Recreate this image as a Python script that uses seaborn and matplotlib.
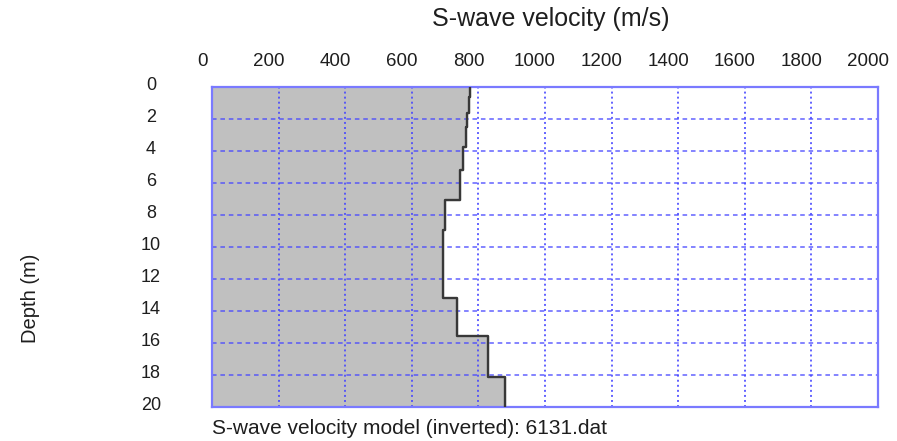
import matplotlib
matplotlib.use("Agg")
import matplotlib.pyplot as plt
import matplotlib.transforms as mtransforms
import pandas as pd
import seaborn as sns

# layer tops (m) and S-wave velocities (m/s)
layer_top = [0.0, 0.6, 1.65, 2.5, 3.75, 5.2, 7.05, 8.95, 13.2, 15.55, 18.1]
vs = [775, 772, 767, 763, 753, 745, 700, 695, 735, 830, 880]
max_depth = 20.0
x_ticks = list(range(0, 2001, 200))
y_ticks = list(range(0, 21, 2))

sns.set_theme(style="white")
plt.rcParams["font.family"] = ["Liberation Sans", "DejaVu Sans"]

bottoms = layer_top[1:] + [max_depth]
rows = []
for top, bot, v in zip(layer_top, bottoms, vs):
    rows.append({"vs": v, "depth": top})
    rows.append({"vs": v, "depth": bot})
df = pd.DataFrame(rows)

fig = plt.figure(figsize=(8.97, 4.41), dpi=100)
ax = fig.add_axes([212 / 897, 1 - 407 / 441, 666 / 897, 320 / 441])

frame_blue = "#7a7aff"
grid_blue = "#4646ff"
text_col = "#1e1e1e"

ax.fill_betweenx(df["depth"], 0, df["vs"], color="#c0c0c0", zorder=1)
sns.lineplot(data=df, x="vs", y="depth", sort=False, estimator=None,
             color="#383838", linewidth=1.7, ax=ax, zorder=3)

ax.set_xlim(0, 2000)
ax.set_ylim(max_depth, 0)
ax.set_xticks(x_ticks)
ax.set_yticks(y_ticks)
ax.xaxis.tick_top()
ax.set_xlabel("")
ax.set_ylabel("")

for x in x_ticks[1:-1]:
    ax.axvline(x, color=grid_blue, linestyle=(0, (1, 1.6)), linewidth=1.4, alpha=0.85, zorder=2)
for y in y_ticks[1:-1]:
    ax.axhline(y, color=grid_blue, linestyle=(0, (3, 2.5)), linewidth=1.1, alpha=0.85, zorder=2)

for sp in ax.spines.values():
    sp.set_color(frame_blue)
    sp.set_linewidth(1.6)
    sp.set_visible(True)

ax.tick_params(axis="x", length=0, pad=12, labelsize=13.5, colors=text_col)
ax.tick_params(axis="y", length=0, pad=44, labelsize=13, colors=text_col)
dx = mtransforms.ScaledTranslation(-10 / 100, 0, fig.dpi_scale_trans)
for lbl in ax.get_xticklabels():
    lbl.set_transform(lbl.get_transform() + dx)
dy = mtransforms.ScaledTranslation(0, 3 / 100, fig.dpi_scale_trans)
for lbl in ax.get_yticklabels():
    lbl.set_horizontalalignment("center")
    lbl.set_transform(lbl.get_transform() + dy)

fig.text(551 / 897, 1 - 19 / 441, "S-wave velocity (m/s)", ha="center", va="center",
         fontsize=18, color=text_col)
fig.text(30 / 897, 1 - 298 / 441, "Depth (m)", ha="center", va="center", rotation=90,
         fontsize=14.5, color=text_col)
fig.text(212 / 897, 1 - 428 / 441, "S-wave velocity model (inverted): 6131.dat",
         ha="left", va="center", fontsize=15, color=text_col)

fig.savefig("out.png", dpi=100)
